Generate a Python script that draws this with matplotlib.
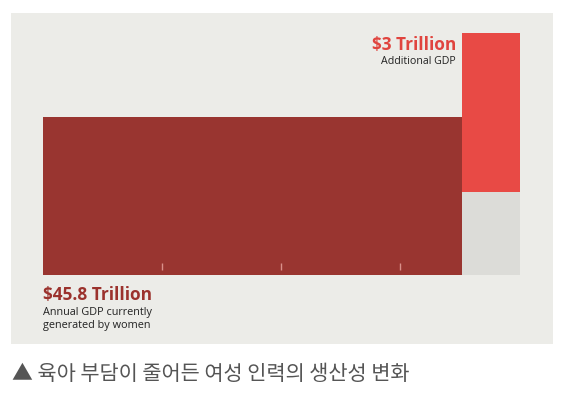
import matplotlib
matplotlib.use("Agg")
import matplotlib.pyplot as plt

# Data (trillions USD)
current_label = "$45.8 Trillion"
current_desc = "Annual GDP currently\ngenerated by women"
current_value = 45.8
additional_label = "$3 Trillion"
additional_desc = "Additional GDP"
additional_value = 3.0
tick_positions = [13, 26, 39]
caption = "▲ 육아 부담이 줄어든 여성 인력의 생산성 변화"

W, H = 565, 396
fig = plt.figure(figsize=(W / 100, H / 100), dpi=100)
fig.patch.set_facecolor("white")

# panel axes (pixel frame 11..553 x 13..344)
ax = fig.add_axes([11 / W, (H - 344) / H, 542 / W, 331 / H])
ax.set_facecolor("#ECECE8")
pxu = 419 / current_value  # pixels per trillion
ax.set_xlim(-(43 - 11) / pxu, (553 - 43) / pxu)
ax.set_ylim(0, 331)
for s in ax.spines.values():
    s.set_visible(False)
ax.set_xticks([])
ax.set_yticks([])

dark = "#993530"
bright = "#E84A45"
grey = "#DCDCD8"

# main bar
ax.bar(0, 158, width=current_value, bottom=69, align="edge", color=dark, linewidth=0)
# extra column
extra_w = 58 / pxu
ax.bar(current_value, 83, width=extra_w, bottom=69, align="edge", color=grey, linewidth=0)
ax.bar(current_value, 159, width=extra_w, bottom=152, align="edge", color=bright, linewidth=0)

# faint tick marks inside main bar
ax.vlines(tick_positions, 74, 81, color="#D9908A", linewidth=1)

bold_font = "Open Sans"
ax.text((456 - 43) / pxu, 299, additional_label, ha="right", va="center",
        fontsize=12.4, fontweight="bold", color="#E0443E", family=bold_font)
ax.text((456 - 43) / pxu, 282, additional_desc, ha="right", va="center",
        fontsize=7.7, color="#222222", family=bold_font)

ax.text(0, 49, current_label, ha="left", va="center",
        fontsize=12.4, fontweight="bold", color="#9B322D", family=bold_font)
ax.text(0, 25, current_desc, ha="left", va="center", linespacing=1.25,
        fontsize=7.8, color="#222222", family=bold_font)

fig.text(12 / W, 1 - 374 / H, caption, ha="left", va="center",
         fontsize=15, color="#555555",
         family=["Noto Sans CJK KR", "DejaVu Sans"])

fig.savefig("out.png", dpi=100, facecolor="white")
